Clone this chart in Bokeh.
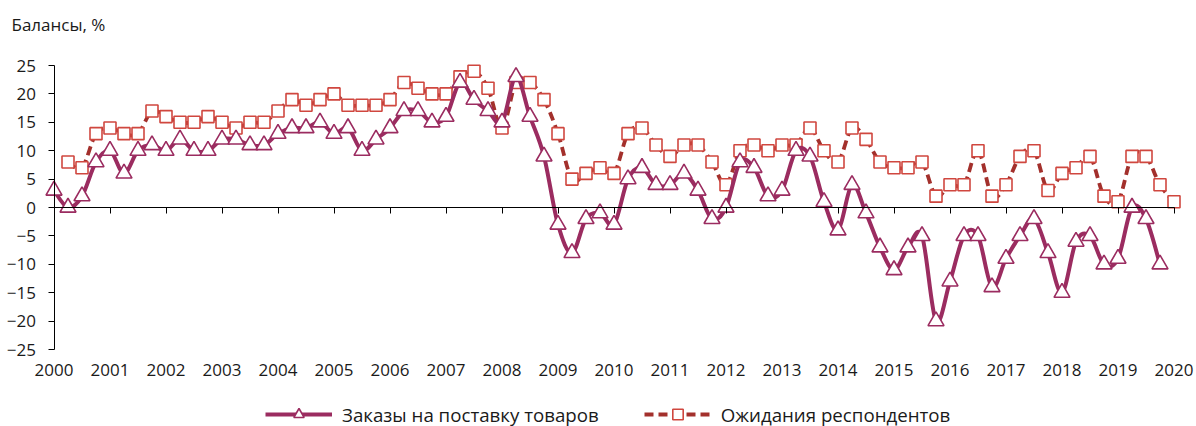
from bokeh.plotting import figure
from bokeh.models import (LinearAxis, SingleIntervalTicker, Range1d, Legend, LegendItem, Label)
from bokeh.embed import file_html
from bokeh.resources import INLINE

# ---- data (quarterly balances, %) ----
start_year = 2000
end_year = 2020
y_min, y_max = -25, 25
orders = [3, 0, 2, 8, 10, 6, 10, 11, 10, 12, 10, 10, 12, 12, 11, 11,
          13, 14, 14, 15, 13, 14, 10, 12, 14, 17, 17, 15, 16, 22, 19, 17,
          15, 23, 16, 9, -3, -8, -2, -1, -3, 5, 7, 4, 4, 6, 3, -2,
          0, 8, 7, 2, 3, 10, 9, 1, -4, 4, -1, -7, -11, -7, -5, -20,
          -13, -5, -5, -14, -9, -5, -2, -8, -15, -6, -5, -10, -9, 0, -2, -10]
# expectations start one quarter later (2000 Q2) and run to 2020 Q1
expectations = [8, 7, 13, 14, 13, 13, 17, 16, 15, 15, 16, 15, 14, 15, 15,
                17, 19, 18, 19, 20, 18, 18, 18, 19, 22, 21, 20, 20, 23, 24, 21,
                14, 22, 22, 19, 13, 5, 6, 7, 6, 13, 14, 11, 9, 11, 11, 8,
                4, 10, 11, 10, 11, 11, 14, 10, 8, 14, 12, 8, 7, 7, 8, 2,
                4, 4, 10, 2, 4, 9, 10, 3, 6, 7, 9, 2, 1, 9, 9, 4, 1]
orders_label = "Заказы на поставку товаров"
expect_label = "Ожидания респондентов"
y_title = "Балансы, %"

x_orders = [start_year + i * 0.25 for i in range(len(orders))]
x_expect = [start_year + 0.25 + i * 0.25 for i in range(len(expectations))]


def bezier_parts(xs, ys, t=1.0 / 6.0):
    n = len(xs)
    x0, y0, x1, y1, cx0, cy0, cx1, cy1 = [], [], [], [], [], [], [], []
    for i in range(n - 1):
        ip = max(i - 1, 0)
        inn = min(i + 2, n - 1)
        x0.append(xs[i]); y0.append(ys[i])
        x1.append(xs[i + 1]); y1.append(ys[i + 1])
        cx0.append(xs[i] + (xs[i + 1] - xs[ip]) * t)
        cy0.append(ys[i] + (ys[i + 1] - ys[ip]) * t)
        cx1.append(xs[i + 1] - (xs[inn] - xs[i]) * t)
        cy1.append(ys[i + 1] - (ys[inn] - ys[i]) * t)
    return dict(x0=x0, y0=y0, x1=x1, y1=y1, cx0=cx0, cy0=cy0, cx1=cx1, cy1=cy1)


FONT = "Open Sans"
TXT = "#1a1a1a"
ORDERS_C = "#9b2c60"
EXP_LINE_C = "#a3302c"
EXP_MARK_C = "#d0473f"

W, H = 1196, 426
# layout: pixels per unit and the plot-area placement inside the canvas
px_year = 56.0
px_unit = 5.68
left_px, top_px = 53.5, 65.0
x_lo = start_year - left_px / px_year
x_hi = start_year + (W - left_px) / px_year
y_hi = y_max + top_px / px_unit
y_lo = y_max - (H - top_px) / px_unit

p = figure(width=W, height=H, output_backend="svg", toolbar_location=None,
           x_range=Range1d(x_lo, x_hi), y_range=Range1d(y_lo, y_hi),
           min_border_left=0, min_border_right=0, min_border_top=0, min_border_bottom=0)
p.title.visible = False
p.outline_line_color = None
p.grid.visible = False

# y axis drawn at x = start year
p.yaxis.fixed_location = start_year
p.yaxis.bounds = (y_min, y_max)
p.yaxis.ticker = SingleIntervalTicker(interval=5, num_minor_ticks=0)
p.yaxis.major_tick_in = 0
p.yaxis.major_tick_out = 6
p.yaxis.minor_tick_line_color = None
p.yaxis.major_label_standoff = 12
p.yaxis.major_label_text_font = FONT
p.yaxis.major_label_text_font_size = "17px"
p.yaxis.major_label_text_color = TXT
p.yaxis.axis_line_color = "black"
p.yaxis.major_tick_line_color = "black"

# x axis line at y = 0 (ticks only)
p.xaxis.fixed_location = 0
p.xaxis.bounds = (start_year, end_year)
p.xaxis.ticker = SingleIntervalTicker(interval=1, num_minor_ticks=0)
p.xaxis.major_tick_in = 0
p.xaxis.major_tick_out = 6
p.xaxis.minor_tick_line_color = None
p.xaxis.major_label_text_alpha = 0
p.xaxis.major_label_text_font_size = "1px"
p.xaxis.axis_line_color = "black"
p.xaxis.major_tick_line_color = "black"

# year labels along the bottom of the plot area
lab_axis = LinearAxis(ticker=SingleIntervalTicker(interval=1, num_minor_ticks=0))
lab_axis.fixed_location = y_max - 292.0 / px_unit
lab_axis.bounds = (start_year, end_year)
lab_axis.axis_line_color = None
lab_axis.major_tick_line_color = None
lab_axis.minor_tick_line_color = None
lab_axis.major_tick_in = 0
lab_axis.major_tick_out = 0
lab_axis.major_label_standoff = 6
lab_axis.major_label_text_font = FONT
lab_axis.major_label_text_font_size = "17px"
lab_axis.major_label_text_color = TXT
p.add_layout(lab_axis, "below")

eb = p.bezier(source=bezier_parts(x_expect, expectations), x0="x0", y0="y0", x1="x1", y1="y1",
              cx0="cx0", cy0="cy0", cx1="cx1", cy1="cy1",
              line_color=EXP_LINE_C, line_width=3.8, line_dash="9 5")
es = p.scatter(x_expect, expectations, marker="square", size=12, fill_color="white",
               line_color=EXP_MARK_C, line_width=1.6)
ob = p.bezier(source=bezier_parts(x_orders, orders), x0="x0", y0="y0", x1="x1", y1="y1",
              cx0="cx0", cy0="cy0", cx1="cx1", cy1="cy1",
              line_color=ORDERS_C, line_width=4)
os_ = p.scatter(x_orders, orders, marker="triangle", size=16, fill_color="white",
                line_color=ORDERS_C, line_width=1.6)

legend = Legend(items=[LegendItem(label=orders_label, renderers=[ob, os_]),
                       LegendItem(label=expect_label, renderers=[eb, es])],
                orientation="horizontal", location=(265, -1),
                label_text_font=FONT, label_text_font_size="18.7px", label_text_color=TXT,
                glyph_width=67, glyph_height=26, label_standoff=10, spacing=45,
                padding=0, margin=0, border_line_color=None, background_fill_alpha=0)
p.add_layout(legend)

title = Label(x=11, y=H - 24, x_units="screen", y_units="screen", text=y_title,
              text_font=FONT, text_font_size="17px", text_color=TXT, text_baseline="middle")
p.add_layout(title)

open("out.html", "w").write(file_html(p, INLINE))
